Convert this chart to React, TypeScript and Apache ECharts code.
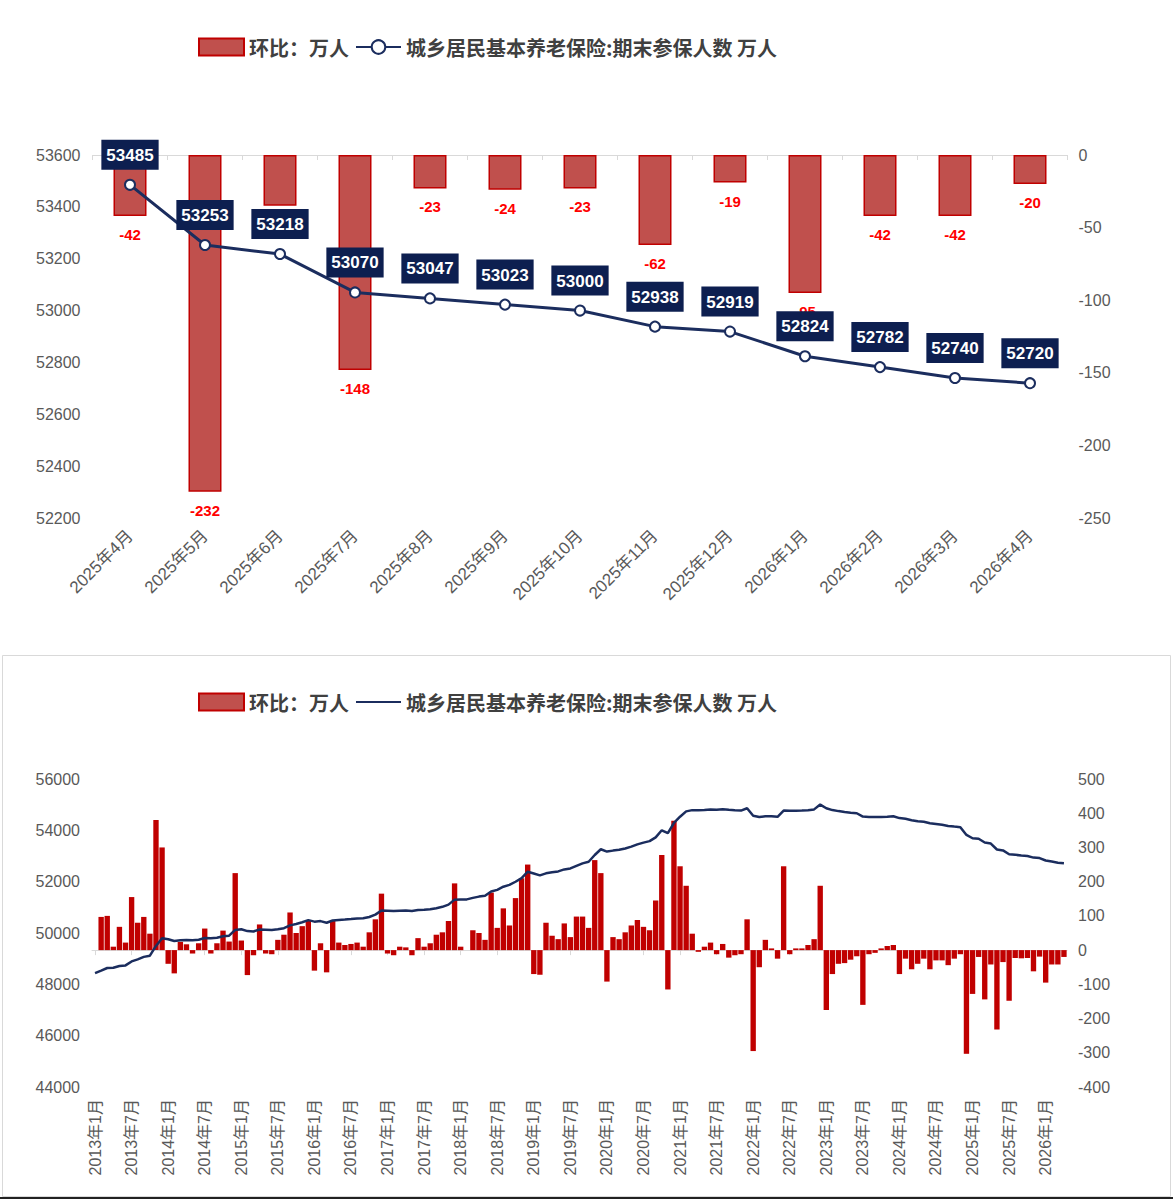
import React, { useEffect, useRef } from "react";
import * as echarts from "echarts";

const CHANGE_NAME = "环比：万人";
const TOTAL_NAME = "城乡居民基本养老保险:期末参保人数 万人";

// ---- top chart (last 13 months) ----
const topCategories = [
  "2025年4月", "2025年5月", "2025年6月", "2025年7月", "2025年8月", "2025年9月", "2025年10月",
  "2025年11月", "2025年12月", "2026年1月", "2026年2月", "2026年3月", "2026年4月",
];
const topChange = [-42, -232, -35, -148, -23, -24, -23, -62, -19, -95, -42, -42, -20];
const topTotal = [53485, 53253, 53218, 53070, 53047, 53023, 53000, 52938, 52919, 52824, 52782, 52740, 52720];
// index of a bar label that is fully covered by a line label in the reference
const topHiddenBarLabels = [2];
const topLeftAxis = { min: 52200, max: 53600, interval: 200 };
const topRightAxis = { min: -250, max: 0, interval: 50 };

// ---- bottom chart (2013年1月 .. 2026年4月, monthly) ----
const histStartYear = 2013;
const histChange = [
  0, 97, 100, 10, 68, 22, 155, 80, 97, 48,
  380, 300, -40, -68, 24, 17, -10, 20, 63, -10,
  20, 57, 25, 225, 28, -73, -15, 75, -10, -12,
  30, 45, 110, 50, 70, 85, -60, 20, -65, 88,
  22, 15, 18, 22, 10, 52, 90, 165, -10, -15,
  10, 8, -15, 35, 10, 20, 45, 52, 85, 195,
  10, 0, 58, 50, 30, 168, 65, 122, 72, 152,
  210, 250, -70, -72, 80, 42, 32, 78, 38, 98,
  98, 65, 263, 225, -92, 38, 32, 52, 72, 88,
  68, 58, 145, 278, -115, 378, 245, 188, 48, -5,
  10, 22, -12, 18, -22, -15, -12, 90, -295, -50,
  30, 5, -25, 245, -12, 5, 5, 15, 32, 188,
  -175, -70, -40, -38, -28, -18, -160, -12, -8, 5,
  12, 15, -70, -25, -56, -40, -25, -56, -30, -30,
  -44, -25, -12, -303, -128, -20, -144, -42, -232, -35,
  -148, -23, -24, -23, -62, -19, -95, -42, -42, -20,
];
const histTotal = [
  48440, 48537, 48637, 48647, 48715, 48737, 48892, 48972, 49069, 49117,
  49497, 49797, 49757, 49689, 49713, 49730, 49720, 49740, 49803, 49793,
  49813, 49870, 49895, 50120, 50148, 50075, 50060, 50135, 50125, 50113,
  50143, 50188, 50298, 50348, 50418, 50503, 50443, 50463, 50398, 50486,
  50508, 50523, 50541, 50563, 50573, 50625, 50715, 50880, 50870, 50855,
  50865, 50873, 50858, 50893, 50903, 50923, 50968, 51020, 51105, 51300,
  51310, 51310, 51368, 51418, 51448, 51616, 51681, 51803, 51875, 51997,
  52137, 52387, 52317, 52245, 52325, 52367, 52399, 52477, 52515, 52613,
  52711, 52776, 53039, 53264, 53172, 53210, 53242, 53294, 53366, 53454,
  53522, 53580, 53725, 54003, 53888, 54286, 54531, 54739, 54787, 54782,
  54792, 54814, 54802, 54820, 54798, 54783, 54771, 54861, 54566, 54516,
  54546, 54551, 54526, 54771, 54759, 54764, 54769, 54784, 54816, 55004,
  54859, 54789, 54749, 54711, 54683, 54665, 54535, 54523, 54515, 54520,
  54532, 54547, 54477, 54452, 54396, 54356, 54331, 54275, 54245, 54215,
  54171, 54146, 54122, 53820, 53692, 53672, 53527, 53485, 53253, 53218,
  53070, 53047, 53023, 53000, 52938, 52919, 52824, 52782, 52740, 52720,
];
const histLeftAxis = { min: 44000, max: 56000, interval: 2000 };
const histRightAxis = { min: -400, max: 500, interval: 100 };

const histCategories: string[] = [];
for (let k = 0; k < histChange.length; k++) {
  histCategories.push(`${histStartYear + Math.floor(k / 12)}年${(k % 12) + 1}月`);
}

const FONT = "'Liberation Sans', 'Noto Sans CJK SC', sans-serif";
const CJK = "'Noto Sans CJK SC', sans-serif";
const NAVY = "#1B2D5E";
const LABEL_BG = "#0D1F50";
const GRAY = "#595959";
const AXIS_LINE = "#D9D9D9";

const legendText = { fontSize: 20, fontWeight: "bold", color: "#404040", fontFamily: CJK };

const plainValueAxis = (cfg: any, position: string, margin: number) => ({
  type: "value",
  position,
  min: cfg.min,
  max: cfg.max,
  interval: cfg.interval,
  splitLine: { show: false },
  axisLine: { show: false },
  axisTick: { show: false },
  axisLabel: {
    color: GRAY,
    fontSize: 16,
    margin,
    fontFamily: FONT,
    formatter: (v: number) => String(v),
  },
});

const topBarData = topChange.map((v, i) =>
  topHiddenBarLabels.indexOf(i) >= 0 ? { value: v, label: { show: false } } : v
);

const topOption: any = {
  animation: false,
  textStyle: { fontFamily: FONT },
  legend: {
    left: 193,
    top: 32,
    itemWidth: 45,
    itemHeight: 17,
    itemGap: 6,
    textStyle: legendText,
    data: [{ name: CHANGE_NAME, icon: "rect" }, { name: TOTAL_NAME }],
  },
  grid: { left: 92.5, right: 105.5, top: 155, bottom: 122 },
  xAxis: {
    type: "category",
    data: topCategories,
    boundaryGap: true,
    axisLine: { lineStyle: { color: AXIS_LINE, width: 1 } },
    axisTick: { show: true, length: 5, lineStyle: { color: AXIS_LINE } },
    axisLabel: { rotate: 45, color: GRAY, fontSize: 17, margin: 15, interval: 0, fontFamily: FONT },
  },
  yAxis: [plainValueAxis(topLeftAxis, "left", 12), plainValueAxis(topRightAxis, "right", 11)],
  series: [
    {
      type: "bar",
      name: CHANGE_NAME,
      yAxisIndex: 1,
      data: topBarData,
      barWidth: 33,
      z: 2,
      itemStyle: { color: "#C0504D", borderColor: "#C00000", borderWidth: 1.5 },
      label: {
        show: true,
        position: "bottom",
        distance: 11,
        color: "#FF0000",
        fontSize: 15,
        fontWeight: "bold",
        fontFamily: FONT,
      },
    },
    {
      type: "line",
      name: TOTAL_NAME,
      yAxisIndex: 0,
      data: topTotal,
      z: 5,
      symbol: "emptyCircle",
      symbolSize: 10,
      lineStyle: { color: NAVY, width: 3 },
      itemStyle: { color: NAVY, borderColor: NAVY, borderWidth: 1.5 },
      label: {
        show: true,
        position: "top",
        distance: 9,
        color: "#FFFFFF",
        backgroundColor: LABEL_BG,
        padding: [7, 5, 6, 5],
        fontSize: 17,
        fontWeight: "bold",
        fontFamily: FONT,
      },
    },
  ],
};

const bottomOption: any = {
  animation: false,
  textStyle: { fontFamily: FONT },
  legend: {
    left: 193,
    top: 47,
    itemWidth: 45,
    itemHeight: 17,
    itemGap: 6,
    textStyle: legendText,
    data: [
      {
        name: CHANGE_NAME,
        icon: "rect",
        itemStyle: { color: "#C0504D", borderColor: "#C00000", borderWidth: 2 },
      },
      { name: TOTAL_NAME, itemStyle: { opacity: 0 } },
    ],
  },
  grid: { left: 92, right: 106, top: 139, bottom: 113 },
  xAxis: {
    type: "category",
    data: histCategories,
    boundaryGap: true,
    axisLine: { lineStyle: { color: AXIS_LINE, width: 1 } },
    axisTick: { show: true, interval: 5, alignWithLabel: true, length: 5, lineStyle: { color: AXIS_LINE } },
    axisLabel: { rotate: 90, interval: 5, color: GRAY, fontSize: 16, margin: 12, fontFamily: FONT },
  },
  yAxis: [plainValueAxis(histLeftAxis, "left", 12), plainValueAxis(histRightAxis, "right", 11)],
  series: [
    {
      type: "bar",
      name: CHANGE_NAME,
      yAxisIndex: 1,
      data: histChange,
      barCategoryGap: "12%",
      itemStyle: { color: "#C00000" },
    },
    {
      type: "line",
      name: TOTAL_NAME,
      yAxisIndex: 0,
      data: histTotal,
      z: 5,
      symbol: "none",
      lineStyle: { color: NAVY, width: 2.5 },
      itemStyle: { color: NAVY },
    },
  ],
  graphic: [
    {
      type: "rect",
      shape: { x: 2.5, y: 15.5, width: 1168, height: 541 },
      style: { fill: "none", stroke: "#D9D9D9", lineWidth: 1 },
      silent: true,
    },
    {
      type: "line",
      shape: { x1: 0, y1: 558, x2: 1173, y2: 558 },
      style: { stroke: "#222222", lineWidth: 2 },
      silent: true,
    },
  ],
};

export default function App() {
  const topRef = useRef<HTMLDivElement>(null);
  const botRef = useRef<HTMLDivElement>(null);

  useEffect(() => {
    document.body.style.margin = "0";
    const c1 = echarts.init(topRef.current as HTMLDivElement, null, { renderer: "svg" });
    c1.setOption(topOption);
    const c2 = echarts.init(botRef.current as HTMLDivElement, null, { renderer: "svg" });
    c2.setOption(bottomOption);
    return () => {
      c1.dispose();
      c2.dispose();
    };
  }, []);

  return (
    <div style={{ position: "relative", width: 1173, height: 1200, background: "#FFFFFF" }}>
      <div ref={topRef} style={{ position: "absolute", left: 0, top: 0, width: 1173, height: 640 }} />
      <div ref={botRef} style={{ position: "absolute", left: 0, top: 640, width: 1173, height: 560 }} />
    </div>
  );
}
